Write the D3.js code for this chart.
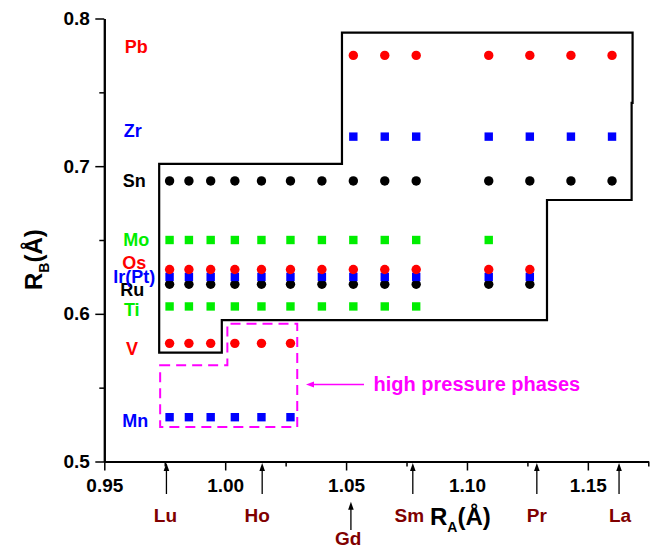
<!DOCTYPE html>
<html><head><meta charset="utf-8">
<script src="https://cdn.jsdelivr.net/npm/d3@7"></script>
<style>
body{margin:0;background:#fff}
svg{display:block}
text{font-family:"Liberation Sans",Arial,Helvetica,sans-serif;font-weight:bold}
</style>
</head><body><svg id="c" width="657" height="548"></svg>
<script>
// ---------- data ----------
const lnNames = ["Lu","Yb","Tm","Er","Ho","Dy","Tb","Gd","Eu","Sm","Nd","Pr","Ce","La"];
const rA = [0.977,0.985,0.994,1.004,1.015,1.027,1.040,1.053,1.066,1.079,1.109,1.126,1.143,1.160];

const xMajorTicks = [0.95,1.00,1.05,1.10,1.15];
const xMinorTicks = [0.975,1.025,1.075,1.125,1.175];
const yMajorTicks = [0.5,0.6,0.7,0.8];
const yMinorTicks = [0.55,0.65,0.75];

const bNames = ["Mn","V","Ti","Ru","Ir(Pt)","Os","Mo","Sn","Zr","Pb"];
const rB     = [0.53,0.58,0.605,0.62,0.625,0.63,0.65,0.69,0.72,0.775];
const bSites = [
  ["Lu","Yb","Tm","Er","Ho","Dy"],
  ["Lu","Yb","Tm","Er","Ho","Dy"],
  ["Lu","Yb","Tm","Er","Ho","Dy","Tb","Gd","Eu","Sm"],
  ["Lu","Yb","Tm","Er","Ho","Dy","Tb","Gd","Eu","Sm","Nd","Pr"],
  ["Lu","Yb","Tm","Er","Ho","Dy","Tb","Gd","Eu","Sm","Nd","Pr"],
  ["Lu","Yb","Tm","Er","Ho","Dy","Tb","Gd","Eu","Sm","Nd","Pr"],
  ["Lu","Yb","Tm","Er","Ho","Dy","Tb","Gd","Eu","Sm","Nd"],
  ["Lu","Yb","Tm","Er","Ho","Dy","Tb","Gd","Eu","Sm","Nd","Pr","Ce","La"],
  ["Gd","Eu","Sm","Nd","Pr","Ce","La"],
  ["Gd","Eu","Sm","Nd","Pr","Ce","La"]
];

// stability field boundary (solid) and high-pressure region (dashed)
const stableX = [0.9727,1.0483,1.0483,1.1685,1.1685,1.1681,1.1681,1.1331,1.1331,0.9986,0.9986,0.9727];
const stableY = [0.7015,0.7015,0.7904,0.7904,0.7428,0.7428,0.6771,0.6771,0.5958,0.5958,0.5737,0.5737];
const hpX = [0.9731,1.0009,1.0009,1.0298,1.0298,0.9731];
const hpY = [0.5651,0.5651,0.5933,0.5933,0.5233,0.5233];

const markedA  = ["Lu","Ho","Gd","Sm","Pr","La"];
const markedRA = [0.9757,1.0153,1.0520,1.0776,1.1289,1.1629];

const noteText = "high pressure phases";

// ---------- styles ----------
const style = {
  "Mn":{c:"#0000ff",s:"square"}, "V":{c:"#ff0000",s:"circle"}, "Ti":{c:"#00ee00",s:"square"},
  "Ru":{c:"#000000",s:"circle"}, "Ir(Pt)":{c:"#0000ff",s:"square"}, "Os":{c:"#ff0000",s:"circle"},
  "Mo":{c:"#00ee00",s:"square"}, "Sn":{c:"#000000",s:"circle"}, "Zr":{c:"#0000ff",s:"square"},
  "Pb":{c:"#ff0000",s:"circle"}
};
const labelDy = {"Pb":-2,"Zr":0,"Sn":5.7,"Mo":5.7,"Os":-1,"Ir(Pt)":5.6,"Ru":12,"Ti":9.7,"V":12,"Mn":10};
const labelDx = {"Pb":2,"Zr":-1.5,"Sn":0,"Mo":2,"Os":0,"Ir(Pt)":0,"Ru":-2,"Ti":-2.5,"V":-2.3,"Mn":1};
const lowLabel = {"Gd":true};
const aLabelDx = {"Lu":-1,"Ho":-5,"Gd":-2.7,"Sm":-3.4,"Pr":0,"La":1};

// ---------- drawing ----------
const svg = d3.select("#c");
const x = d3.scaleLinear().domain([0.95,1.175]).range([104.3,648.3]);
const y = d3.scaleLinear().domain([0.5,0.8]).range([461.5,18.5]);
const x0 = x.range()[0], yb = y.range()[0];

// axes
const xAxis = d3.axisBottom(x).tickValues(xMajorTicks).tickFormat(d3.format(".2f"))
  .tickSizeInner(9).tickSizeOuter(0).tickPadding(8);
const xMinor = d3.axisBottom(x).tickValues(xMinorTicks).tickFormat("").tickSizeInner(5).tickSizeOuter(0);
const yAxis = d3.axisLeft(y).tickValues(yMajorTicks).tickFormat(d3.format(".1f"))
  .tickSizeInner(9).tickSizeOuter(0).tickPadding(5.5);
const yMinor = d3.axisLeft(y).tickValues(yMinorTicks).tickFormat("").tickSizeInner(5).tickSizeOuter(0);

function styleAxis(g){
  g.select(".domain").attr("stroke","#000").attr("stroke-width",2);
  g.selectAll(".tick line").attr("stroke","#000").attr("stroke-width",1.5);
  g.selectAll(".tick text").attr("fill","#000").style("font-size","19px")
    .style("font-family","'Liberation Sans',Arial,sans-serif").style("font-weight","bold");
}
svg.append("g").attr("transform",`translate(0,${yb})`).call(xMinor).call(styleAxis);
svg.append("g").attr("transform",`translate(0,${yb})`).call(xAxis).call(styleAxis);
svg.append("g").attr("transform",`translate(${x0},0)`).call(yMinor).call(styleAxis);
svg.append("g").attr("transform",`translate(${x0},0)`).call(yAxis).call(styleAxis);

// boundary polygons
const line = d3.line().x(d=>x(d[0])).y(d=>y(d[1]));
svg.append("path").attr("d", line(stableX.map((v,i)=>[v,stableY[i]]))+"Z")
  .attr("fill","none").attr("stroke","#000").attr("stroke-width",2.2);
svg.append("path").attr("d", line(hpX.map((v,i)=>[v,hpY[i]]))+"Z")
  .attr("fill","none").attr("stroke","#ff00ff").attr("stroke-width",2).attr("stroke-dasharray","10,6");

// points
const aIndex = {}; lnNames.forEach((n,i)=>aIndex[n]=rA[i]);
bNames.forEach((b,i)=>{
  const st = style[b];
  const pts = bSites[i].map(a=>({x:aIndex[a], y:rB[i]}));
  const g = svg.append("g");
  if(st.s==="circle"){
    g.selectAll("circle").data(pts).join("circle")
      .attr("cx",d=>x(d.x)).attr("cy",d=>y(d.y)).attr("r",4.7).attr("fill",st.c);
  } else {
    g.selectAll("rect").data(pts).join("rect")
      .attr("x",d=>x(d.x)-4.2).attr("y",d=>y(d.y)-4.2).attr("width",8.4).attr("height",8.4).attr("fill",st.c);
  }
  // label
  svg.append("text").attr("x", x0+30+labelDx[b]).attr("y", y(rB[i])+labelDy[b])
    .attr("text-anchor","middle").attr("fill",st.c).style("font-size","18px").text(b);
});

// A-site marker arrows
markedA.forEach((a,i)=>{
  const ax = x(markedRA[i]);
  const low = lowLabel[a];
  const tip = low ? 501.7 : 463, tail = low ? 530 : 494;
  svg.append("line").attr("x1",ax).attr("x2",ax).attr("y1",tail).attr("y2",tip+6)
    .attr("stroke","#000").attr("stroke-width",1.3);
  svg.append("path").attr("d",`M${ax},${tip}L${ax-2.8},${tip+8}L${ax+2.8},${tip+8}Z`).attr("fill","#000");
  svg.append("text").attr("x",ax+aLabelDx[a]).attr("y", low ? 545 : 522)
    .attr("text-anchor","middle").attr("fill","#800000").style("font-size","19px").text(a);
});

// high-pressure annotation
const arY = 384.5, arX1 = 306, arX2 = 364;
svg.append("line").attr("x1",arX1+5).attr("x2",arX2).attr("y1",arY).attr("y2",arY)
  .attr("stroke","#ff00ff").attr("stroke-width",1.6);
svg.append("path").attr("d",`M${arX1},${arY}L${arX1+8},${arY-3}L${arX1+8},${arY+3}Z`).attr("fill","#ff00ff");
svg.append("text").attr("x",373.5).attr("y",391).attr("fill","#ff00ff")
  .style("font-size","20px").text(noteText);

// axis titles
const xt = svg.append("text").attr("x",430).attr("y",525).attr("fill","#000").style("font-size","24px");
xt.append("tspan").text("R");
xt.append("tspan").attr("dy",7).style("font-size","14px").text("A");
xt.append("tspan").attr("dy",-7).text("(Å)");

const yt = svg.append("text").attr("transform","translate(41.7,290) rotate(-90)")
  .attr("fill","#000").style("font-size","24px");
yt.append("tspan").text("R");
yt.append("tspan").attr("dy",7).style("font-size","14px").text("B");
yt.append("tspan").attr("dy",-7).text("(Å)");
</script>
</body></html>
